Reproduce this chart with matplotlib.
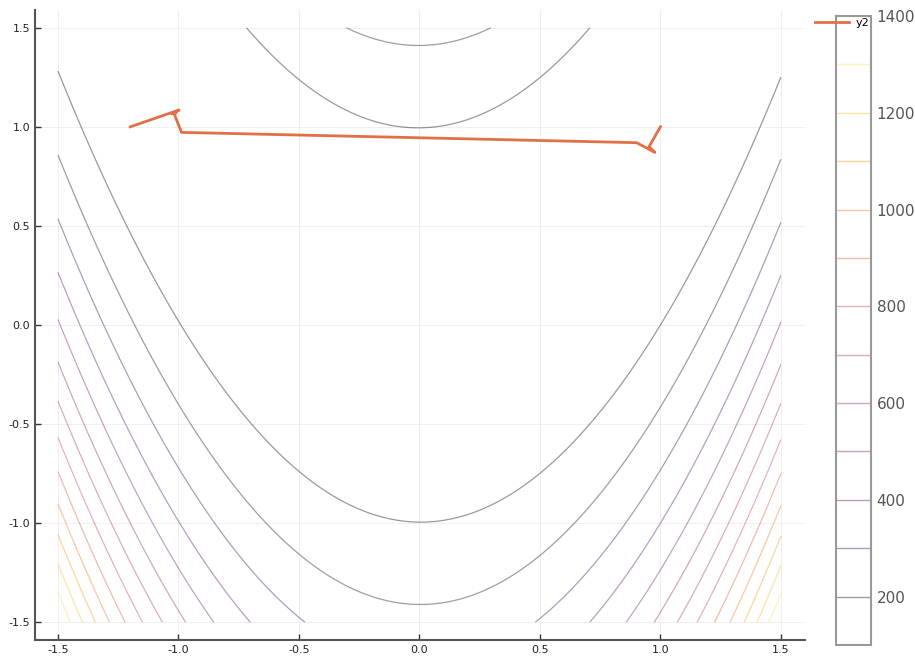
import numpy as np
import matplotlib
matplotlib.use("Agg")
import matplotlib.pyplot as plt

# grid the function is sampled on
xs = np.linspace(-1.5, 1.5, 301)
ys = np.linspace(-1.5, 1.5, 301)
levels = np.arange(100, 1500, 100)

# optimiser path
path_x = [-1.2, -0.997, -1.027, -1.010, -1.016, -0.987, 0.901, 0.977, 0.953, 1.0]
path_y = [1.0, 1.085, 1.066, 1.073, 1.060, 0.972, 0.920, 0.871, 0.900, 1.0]

xticks = [-1.5, -1.0, -0.5, 0.0, 0.5, 1.0, 1.5]
yticks = [-1.5, -1.0, -0.5, 0.0, 0.5, 1.0, 1.5]
cbar_ticks = [200, 400, 600, 800, 1000, 1200, 1400]


def rosenbrock(x, y):
    return (1 - x) ** 2 + 100 * (y - x ** 2) ** 2


def main():
    X, Y = np.meshgrid(xs, ys)
    Z = rosenbrock(X, Y)

    fig = plt.figure(figsize=(9.15, 6.62), dpi=100)
    ax = fig.add_axes([0.0383, 0.0332, 0.8415, 0.9518])
    cax = fig.add_axes([0.9137, 0.0257, 0.0382, 0.9501])

    cs = ax.contour(X, Y, Z, levels=levels, cmap="inferno",
                    vmin=100, vmax=1400, linewidths=0.9, alpha=0.4)
    line, = ax.plot(path_x, path_y, color="#e26f46", lw=2, label="y2")

    ax.set_xlim(-1.595, 1.6)
    ax.set_ylim(-1.59, 1.59)
    ax.set_xticks(xticks)
    ax.set_yticks(yticks)
    ax.set_xticklabels([f"{t:.1f}" for t in xticks])
    ax.set_yticklabels([f"{t:.1f}" for t in yticks])
    ax.grid(color="#efefef", lw=0.7)
    ax.set_axisbelow(True)
    for side in ["top", "right"]:
        ax.spines[side].set_visible(False)
    for side in ["left", "bottom"]:
        ax.spines[side].set_color("#555555")
        ax.spines[side].set_linewidth(1.5)
    ax.tick_params(direction="in", length=4, width=1, color="#333333",
                   labelsize=8, labelcolor="#222222")

    cb = fig.colorbar(cs, cax=cax)
    cb.set_ticks(cbar_ticks)
    cb.ax.tick_params(length=0, labelsize=11, labelcolor="#555555", pad=4)
    cb.outline.set_edgecolor("#999999")
    cb.outline.set_linewidth(1.5)
    for c in cb.ax.collections:
        c.set_linewidth(1.0)

    cax.legend(handles=[line], loc="upper left",
               bbox_to_anchor=(0.8863, 0.979), bbox_transform=fig.transFigure,
               frameon=False, fontsize=8, handlelength=3.0,
               handletextpad=0.6, borderaxespad=0)

    fig.savefig("out.png", dpi=100)


if __name__ == "__main__":
    main()
